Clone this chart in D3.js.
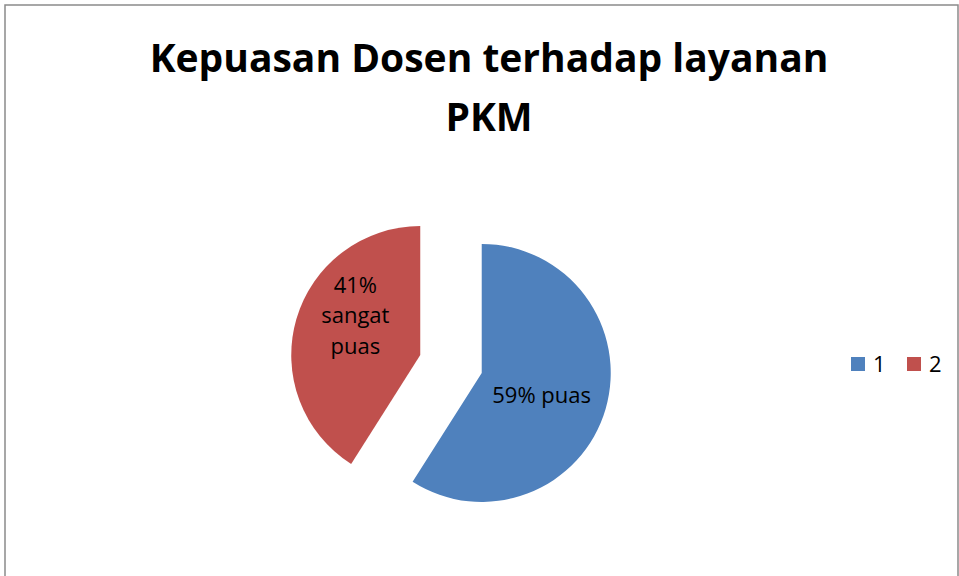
<!DOCTYPE html>
<html>
<head>
<meta charset="utf-8">
<script src="https://cdn.jsdelivr.net/npm/d3@7"></script>
<style>
  html, body { margin: 0; padding: 0; background: #fff; }
  svg { display: block; font-family: "Open Sans", "DejaVu Sans", sans-serif; }
</style>
</head>
<body>
<svg width="959" height="576"></svg>
<script>
// 데이터
const seriesKeys = ["1", "2"];
const values = [59, 41];
const categoryNames = ["puas", "sangat puas"];
const colors = ["#4F81BD", "#C0504D"];
const titleLines = ["Kepuasan Dosen terhadap layanan", "PKM"];

const W = 959, H = 576;
const svg = d3.select("svg");

// 테두리
svg.append("rect")
  .attr("x", 5).attr("y", 5)
  .attr("width", 953).attr("height", H + 10)
  .attr("fill", "none")
  .attr("stroke", "#8a8a8a")
  .attr("stroke-width", 1.5);

// 제목
svg.append("text")
  .attr("text-anchor", "middle")
  .attr("font-weight", "bold")
  .attr("font-size", 39)
  .attr("fill", "#000")
  .selectAll("tspan")
  .data(titleLines)
  .join("tspan")
  .attr("x", 489)
  .attr("y", (d, i) => 72 + i * 59)
  .text(d => d);

// 파이
const cx = 451, cy = 364, R = 129, explode = 32;
const pie = d3.pie().sort(null).value(d => d);
const arcs = pie(values);
const arcGen = d3.arc().innerRadius(0).outerRadius(R);

const pieG = svg.append("g").attr("transform", `translate(${cx},${cy})`);

const dir = d => {
  const a = (d.startAngle + d.endAngle) / 2;
  return [Math.sin(a), -Math.cos(a)];
};

const slice = pieG.selectAll(".slice")
  .data(arcs)
  .join("g")
  .attr("class", "slice")
  .attr("transform", d => {
    const [ux, uy] = dir(d);
    return `translate(${ux * explode},${uy * explode})`;
  });

slice.append("path")
  .attr("d", arcGen)
  .attr("fill", (d, i) => colors[i]);

// 라벨 (퍼센트 + 카테고리, 좁은 조각은 줄바꿈)
const labelLines = (d, i) => {
  const pct = Math.round(d.value / d3.sum(values) * 100) + "%";
  return i === 0 ? [pct + " " + categoryNames[i]] : [pct, ...categoryNames[i].split(" ")];
};
const labelNudge = [[-2, 4], [-3, -22]];
const lineH = 30.5;

slice.append("text")
  .attr("text-anchor", "middle")
  .attr("font-size", 22)
  .attr("fill", "#000")
  .each(function (d, i) {
    const [ux, uy] = dir(d);
    const lines = labelLines(d, i);
    const lx = ux * R * 0.5 + labelNudge[i][0];
    const ly = uy * R * 0.5 + labelNudge[i][1];
    const y0 = ly - (lines.length - 1) * lineH / 2 + 8;
    d3.select(this).selectAll("tspan")
      .data(lines)
      .join("tspan")
      .attr("x", lx)
      .attr("y", (t, k) => y0 + k * lineH)
      .text(t => t);
  });

// 범례
const legend = svg.append("g").attr("transform", "translate(851,357)");
const item = legend.selectAll("g")
  .data(seriesKeys)
  .join("g")
  .attr("transform", (d, i) => `translate(${i * 56},0)`);
item.append("rect")
  .attr("width", 14).attr("height", 14)
  .attr("fill", (d, i) => colors[i]);
item.append("text")
  .attr("x", 22).attr("y", 15)
  .attr("font-size", 22)
  .attr("fill", "#000")
  .text(d => d);
</script>
</body>
</html>
